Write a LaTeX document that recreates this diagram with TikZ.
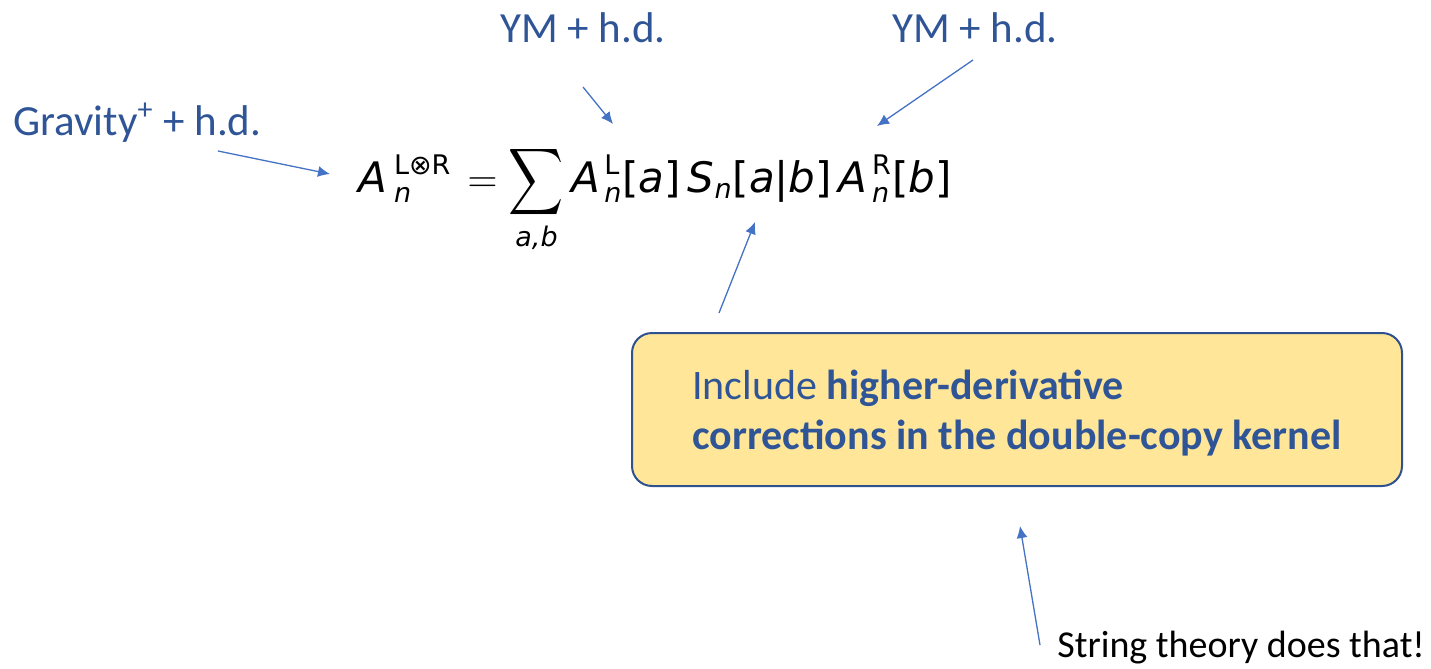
\documentclass[tikz,border=0pt]{standalone}
\usepackage{amsmath}
\usepackage{fontspec}
\setmainfont{Carlito}
\newfontfamily\eqfont{DejaVu Sans}
\usepackage{xcolor}
\usetikzlibrary{arrows.meta, positioning}
\definecolor{lblblue}{HTML}{2F5597}
\definecolor{arrblue}{HTML}{4472C4}
\definecolor{boxedge}{HTML}{2F528F}
\definecolor{boxfill}{HTML}{FFE699}
\DeclareMathSizes{21}{21}{13.5}{10}
\newcommand{\mi}[1]{\text{\eqfont\itshape #1}}
\newcommand{\mr}[1]{\text{\eqfont #1}}
\newcommand{\bigsum}{\mathop{\vcenter{\hbox{\scalebox{0.92}[1.12]{$\displaystyle\sum$}}}}\limits}

\begin{document}
\begin{tikzpicture}[x=0.5pt, y=-0.5pt, >={Latex[length=6pt,width=5.5pt]},
		lbl/.style={text=lblblue, font=\fontsize{21.5}{26}\selectfont, inner sep=0pt, anchor=base west},
		ptr/.style={->, draw=arrblue, line width=0.65pt}]
		\useasboundingbox (0,0) rectangle (1431,669);
		
		% --- Etiquettes ---
		\node[lbl] (grav) at (13,135) {Gravity\textsuperscript{+} + h.d.};
		\node[lbl] (ymL) at (500,42) {YM + h.d.};
		\node[lbl] (ymR) at (892,42) {YM + h.d.};
		
		% --- Formule ---
		\node[anchor=base west, inner sep=0pt, font=\fontsize{21}{25}\selectfont] (amp) at (358,192)
		{$\displaystyle \mi{A}\mkern3mu_{\mi{n}}^{\mr{L⊗R}}\mkern2mu = \bigsum_{\mi{a,b}} \mi{A}\mkern2mu_{\mi{n}}^{\mr{L}}\mr{[}\mi{a}\mr{]}\,\mi{S}_{\mi{n}}\mr{[}\mi{a}\mr{|}\mi{b}\mr{]}\,\mi{A}\mkern2mu_{\mi{n}}^{\mr{R}}\mr{[}\mi{b}\mr{]}$};
		
		% --- Bloc noyau ---
		\node[rectangle, draw=boxedge, line width=1pt, fill=boxfill, rounded corners=10pt,
		minimum width=385pt, minimum height=76.5pt, align=left, text=lblblue,
		font=\fontsize{21}{25}\selectfont] (kernel) at (1017,409.5)
		{\rule{0pt}{18pt}Include \textbf{higher-derivative}\\ \textbf{corrections in the double-copy kernel}};
		
		\node[anchor=base west, inner sep=0pt, font=\fontsize{19}{23}\selectfont] (string) at (1057,657) {String theory does that!};
		
		% --- Points des fleches ---
		\coordinate (gravTail) at (218,151);
		\coordinate (gravTip) at (330,174);
		\coordinate (ymLTail) at (583,87);
		\coordinate (ymLTip) at (613,124);
		\coordinate (ymRTail) at (973,60);
		\coordinate (ymRTip) at (877,126);
		\coordinate (kernelTail) at (719,313);
		\coordinate (kernelTip) at (755,222);
		\coordinate (stringTail) at (1040,645);
		\coordinate (stringTip) at (1020,526);
		
		% --- Fleches ---
		\foreach \i in {grav, ymL, ymR, kernel, string} {
			\draw[ptr] (\i Tail) -- (\i Tip);
		}
		
	\end{tikzpicture}
\end{document}
